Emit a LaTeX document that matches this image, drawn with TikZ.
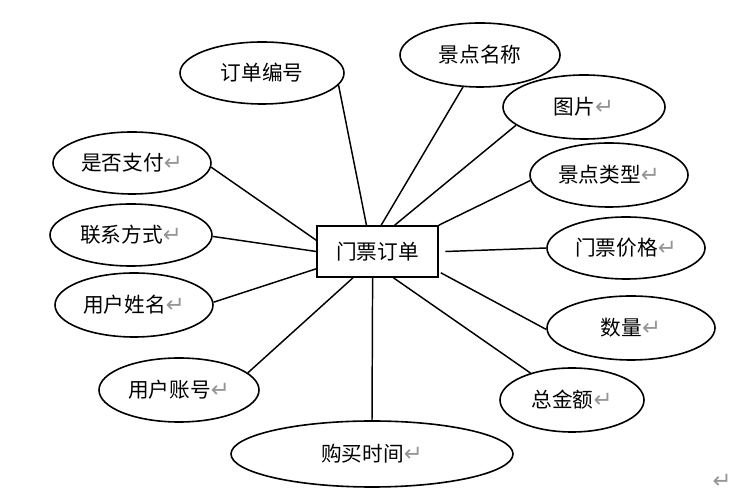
\documentclass[tikz,border=0pt]{standalone}
\usepackage{fontspec}
\setmainfont{Noto Sans CJK SC}
\newfontfamily\simbolos{DejaVu Sans}
\usepackage{xcolor}
\usepackage{tikz}
\usetikzlibrary{shapes.geometric,calc}
\definecolor{cinzamarca}{RGB}{150,150,150}
\newcommand{\marcaret}{\smash{\simbolos\fontsize{17}{17}\selectfont\textcolor{cinzamarca}{↵}}}
\tikzset{
  entidade/.style={rectangle,draw=black,line width=1.2pt,fill=white,
    minimum width=90.75pt,minimum height=38.25pt,font=\fontsize{15.5}{18}\selectfont},
  atributo/.style={ellipse,draw=black,line width=1.2pt,inner sep=0pt,
    font=\fontsize{15.5}{18}\selectfont},
  ligacao/.style={line width=1.1pt,black}
}

\begin{document}
\begin{tikzpicture}[x=0.75pt,y=0.75pt]
  \useasboundingbox (0,0) rectangle (755,498);
  \node[entidade] (ingresso) at (377.5,246.5) {门票订单};
  % atributos: nome/x/y/rx/ry/texto
  \foreach \nome/\x/\y/\rx/\ry/\txt in {
      numero/262/425/82/31/订单编号,
      nomeponto/480/443/80/32/景点名称,
      imagem/584/391/81/32/图片\marcaret,
      tipo/609/323/79/32/景点类型\marcaret,
      preco/626/250/79/31/门票价格\marcaret,
      quantidade/631/170/84/32/数量\marcaret,
      total/572/98/72/32/总金额\marcaret,
      tempo/372/44/141/33/购买时间\marcaret,
      conta/179/108/80/32/用户账号\marcaret,
      nomeusuario/134/193/79/32/用户姓名\marcaret,
      contato/131/263/81/31/联系方式\marcaret,
      pago/132/335/79/31/是否支付\marcaret}
    {\node[atributo,minimum width=\rx*1.5pt,minimum height=\ry*1.5pt]
      (\nome) at (\x,\y) {\txt};}
  % ligacoes
  \foreach \f/\alvo in {0.41/numero.-9,0.53/nomeponto.-118,0.64/imagem.195}
    \draw[ligacao] ($(ingresso.north west)!\f!(ingresso.north east)$) -- (\alvo);
  \foreach \f/\alvo in {0.63/total.147,0.46/tempo.north,0.30/conta.14}
    \draw[ligacao] ($(ingresso.south west)!\f!(ingresso.south east)$) -- (\alvo);
  \draw[ligacao] (ingresso.north east) -- (tipo.184);
  \draw[ligacao] ([xshift=5pt]ingresso.east) -- (preco.180);
  \draw[ligacao] ($(ingresso.south east)+(2,5)$) -- (quantidade.181);
  \draw[ligacao] ($(ingresso.south west)+(0,9)$) -- (nomeusuario.2);
  \draw[ligacao] (ingresso.west) -- (contato.-1.5);
  \draw[ligacao] ($(ingresso.north west)+(0,-15)$) -- (pago.-3);
  \node (fim) at (722,9) {\marcaret};
\end{tikzpicture}
\end{document}
